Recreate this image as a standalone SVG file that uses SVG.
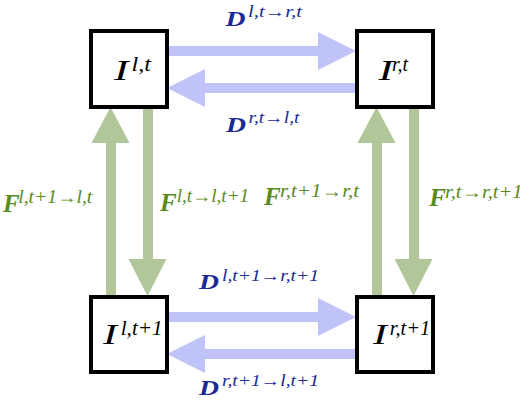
<svg xmlns="http://www.w3.org/2000/svg" width="529" height="403" viewBox="0 0 529 403">
<style>
.box{fill:#fff;stroke:#000;stroke-width:4}
.da{fill:#bfc3f7}
.fa{fill:#b1c799}
.t{font-family:"Liberation Serif","Times New Roman",serif;font-style:italic}
.big{font-size:30px;fill:#000}
.bs{font-size:20px;fill:#000}
.dm{font-size:21px;font-weight:bold;fill:#1b2a94}
.ds{font-size:16px;fill:#1b2a94}
.fm{font-size:25px;font-weight:bold;fill:#5a8a22}
.fs{font-size:18px;fill:#5a8a22}
</style>
<rect width="529" height="403" fill="#fff"/>
<g id="connectors">
  <polygon class="da" points="169,46 318,46 318,32 356,51 318,70 318,56 169,56"/>
  <polygon class="da" points="355,83 205,83 205,69 167,88 205,107 205,93 355,93"/>
  <polygon class="da" points="169,312 318,312 318,298 356,317 318,336 318,322 169,322"/>
  <polygon class="da" points="355,349 205,349 205,335 167,354 205,373 205,359 355,359"/>
  <polygon class="fa" points="106,295 106,143 91.5,143 110.5,107 129.5,143 116,143 116,295"/>
  <polygon class="fa" points="143,109 143,259 128.5,259 147.5,296 166.5,259 153,259 153,109"/>
  <polygon class="fa" points="372,295 372,143 357.5,143 376.5,107 395.5,143 382,143 382,295"/>
  <polygon class="fa" points="409,109 409,259 394.5,259 413.5,296 432.5,259 419,259 419,109"/>
</g>
<g id="edge-labels">
  <text class="t dm" x="225.5" y="25.7" textLength="20" lengthAdjust="spacingAndGlyphs">D</text>
  <text class="t ds" x="248" y="17" textLength="54" lengthAdjust="spacingAndGlyphs">l,t→r,t</text>
  <text class="t dm" x="226" y="131.7" textLength="20" lengthAdjust="spacingAndGlyphs">D</text>
  <text class="t ds" x="248.5" y="123" textLength="51" lengthAdjust="spacingAndGlyphs">r,t→l,t</text>
  <text class="t dm" x="199" y="289.3" textLength="20" lengthAdjust="spacingAndGlyphs">D</text>
  <text class="t ds" x="222" y="280.7" textLength="97" lengthAdjust="spacingAndGlyphs">l,t+1→r,t+1</text>
  <text class="t dm" x="199" y="395" textLength="20" lengthAdjust="spacingAndGlyphs">D</text>
  <text class="t ds" x="222" y="386.3" textLength="97" lengthAdjust="spacingAndGlyphs">r,t+1→l,t+1</text>
  <text class="t fm" x="3" y="212">F</text>
  <text class="t fs" x="18.3" y="203.3" textLength="74" lengthAdjust="spacingAndGlyphs">l,t+1→l,t</text>
  <text class="t fm" x="160" y="210.7">F</text>
  <text class="t fs" x="176.7" y="202.3" textLength="72.5" lengthAdjust="spacingAndGlyphs">l,t→l,t+1</text>
  <text class="t fm" x="264" y="205">F</text>
  <text class="t fs" x="280" y="197.3" textLength="79" lengthAdjust="spacingAndGlyphs">r,t+1→r,t</text>
  <text class="t fm" x="429.3" y="206">F</text>
  <text class="t fs" x="445" y="197.7" textLength="77.5" lengthAdjust="spacingAndGlyphs">r,t→r,t+1</text>
</g>
<g id="node-I-l-t">
  <rect class="box" x="91" y="31" width="76" height="76"/>
  <text class="t big" x="114" y="80" textLength="14.5" lengthAdjust="spacingAndGlyphs">I</text>
  <text class="t bs" x="131.5" y="70.5" textLength="19.5" lengthAdjust="spacingAndGlyphs">l,t</text>
</g>
<g id="node-I-r-t">
  <rect class="box" x="357" y="31" width="76" height="76"/>
  <text class="t big" x="378.5" y="80" textLength="14.5" lengthAdjust="spacingAndGlyphs">I</text>
  <text class="t bs" x="392" y="70.5" textLength="16" lengthAdjust="spacingAndGlyphs">r,t</text>
</g>
<g id="node-I-l-t1">
  <rect class="box" x="91" y="297" width="76" height="75"/>
  <text class="t big" x="103" y="344" textLength="14" lengthAdjust="spacingAndGlyphs">I</text>
  <text class="t bs" x="120.7" y="334.5" textLength="42" lengthAdjust="spacingAndGlyphs">l,t+1</text>
</g>
<g id="node-I-r-t1">
  <rect class="box" x="357" y="297" width="76" height="75"/>
  <text class="t big" x="373" y="344" textLength="14" lengthAdjust="spacingAndGlyphs">I</text>
  <text class="t bs" x="389.7" y="334.5" textLength="40.5" lengthAdjust="spacingAndGlyphs">r,t+1</text>
</g>
</svg>
